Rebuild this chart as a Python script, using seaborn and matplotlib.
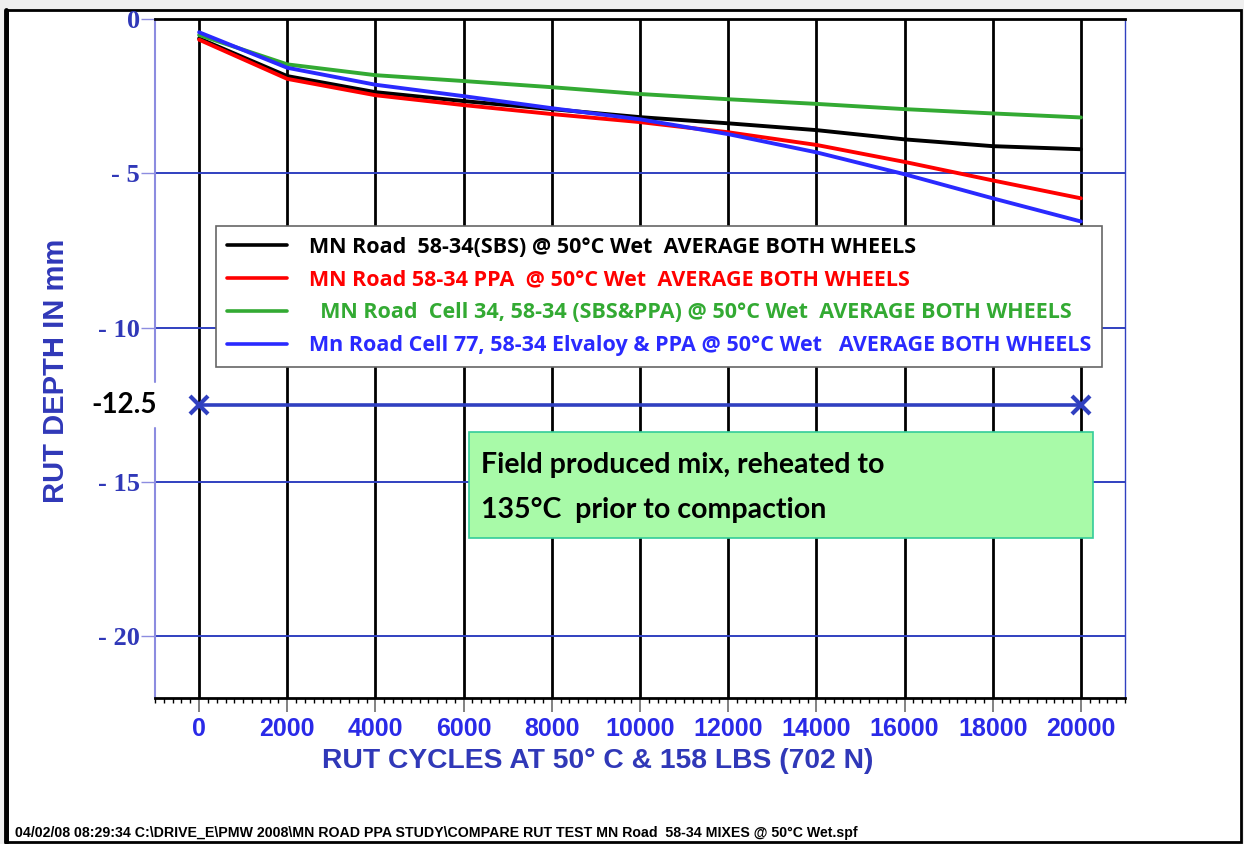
import matplotlib
matplotlib.use("Agg")
import matplotlib.pyplot as plt
import matplotlib.patches as mpatches
import matplotlib.transforms as mtransforms
from matplotlib.ticker import MultipleLocator
import numpy as np
import pandas as pd
import seaborn as sns

# ---------------- data ----------------
cycles = [0, 2000, 4000, 6000, 8000, 10000, 12000, 14000, 16000, 18000, 20000]
sbs = [-0.63, -1.85, -2.37, -2.66, -2.92, -3.18, -3.38, -3.60, -3.90, -4.12, -4.22]
ppa = [-0.67, -1.94, -2.47, -2.79, -3.08, -3.34, -3.67, -4.08, -4.63, -5.23, -5.81]
cell34 = [-0.52, -1.47, -1.82, -2.01, -2.21, -2.43, -2.60, -2.75, -2.92, -3.06, -3.19]
cell77 = [-0.43, -1.58, -2.13, -2.50, -2.89, -3.25, -3.73, -4.32, -5.03, -5.81, -6.56]

series_labels = [
    "MN Road  58-34(SBS) @ 50°C Wet  AVERAGE BOTH WHEELS",
    "MN Road 58-34 PPA  @ 50°C Wet  AVERAGE BOTH WHEELS",
    "  MN Road  Cell 34, 58-34 (SBS&PPA) @ 50°C Wet  AVERAGE BOTH WHEELS",
    "Mn Road Cell 77, 58-34 Elvaloy & PPA @ 50°C Wet   AVERAGE BOTH WHEELS",
]
series_colors = ["#000000", "#ff0000", "#33aa33", "#2a2aff"]
series_values = [sbs, ppa, cell34, cell77]

limit_x = [0, 20000]
limit_y = [-12.5, -12.5]

yticks = [0, -5, -10, -15, -20]
ytick_labels = ["0", "- 5", "- 10", "- 15", "- 20"]
xticks = [0, 2000, 4000, 6000, 8000, 10000, 12000, 14000, 16000, 18000, 20000]

df = pd.concat(
    [pd.DataFrame({"cycles": cycles, "rut": v, "series": lab})
     for v, lab in zip(series_values, series_labels)],
    ignore_index=True,
)

# ---------------- figure ----------------
sns.set_style("white")
W, H = 1244, 844
fig = plt.figure(figsize=(W / 100, H / 100), dpi=100)
fig.patch.set_facecolor("#efefef")

# white page with black frame
page = mpatches.Rectangle((7 / W, 2 / H), (1241 - 7) / W, (834 - 2) / H,
                          transform=fig.transFigure, facecolor="white",
                          edgecolor="black", linewidth=2, zorder=-10)
fig.add_artist(page)
fig.add_artist(plt.Line2D([6 / W, 6 / W], [2 / H, 834 / H], color="black",
                          lw=3.5, transform=fig.transFigure, zorder=-9))

ax = fig.add_axes([155 / W, 1 - 698 / H, (1125 - 155) / W, (698 - 19) / H])
ax.set_facecolor("white")

# grid
for xv in xticks:
    ax.axvline(xv, color="black", lw=2, zorder=1)
for yv in yticks[1:]:
    ax.axhline(yv, color="#3040c0", lw=1.4, zorder=1)

sns.lineplot(data=df, x="cycles", y="rut", hue="series",
             palette=dict(zip(series_labels, series_colors)),
             hue_order=series_labels, lw=2.8, ax=ax, legend=False, zorder=3)

ax.plot(limit_x, limit_y, color="#3040c0", lw=2.6, marker="x",
        markersize=13, mew=3, zorder=3)

ax.set_xlim(-1000, 21000)
ax.set_ylim(-22, 0)

# spines
for s in ["top", "bottom"]:
    ax.spines[s].set_color("black")
    ax.spines[s].set_linewidth(2)
ax.spines["right"].set_color("#3040c0")
ax.spines["right"].set_linewidth(1)
ax.spines["left"].set_visible(False)
# left spine with a gap around the -12.5 label
ax.axvline(-1000, ymin=0, ymax=1 - 13.25 / 22, color="#8c8ce0", lw=1.5,
           clip_on=False, zorder=2)
ax.axvline(-1000, ymin=1 - 11.75 / 22, ymax=1, color="#8c8ce0", lw=1.5,
           clip_on=False, zorder=2)

# ticks
ax.tick_params(axis="both", which="both", bottom=True, left=True,
               top=False, right=False)
ax.set_xticks(xticks)
ax.set_xticklabels([str(v) for v in xticks], fontsize=18, fontweight="bold",
                   color="#2a2ae8", family="Liberation Sans")
ax.xaxis.set_minor_locator(MultipleLocator(200))
ax.tick_params(axis="x", which="major", direction="out", length=10, width=1.3,
               color="#777777", pad=4)
ax.tick_params(axis="x", which="minor", direction="out", length=3.5, width=1,
               color="black")

ax.set_yticks(yticks)
ax.set_yticklabels(ytick_labels, fontsize=19, fontweight="bold",
                   color="#3038b8", family="Liberation Serif")
ax.tick_params(axis="y", which="major", direction="out", length=10, width=1,
               color="#8c8ce0", pad=1)
ax.tick_params(axis="y", which="minor", left=False)

ax.set_xlabel("RUT CYCLES AT 50° C & 158 LBS (702 N)", fontsize=20.3,
              fontweight="bold", color="#3038b8", family="Liberation Sans")
ax.xaxis.set_label_coords((598 - 155) / 970, -(748 - 698) / 679)
ax.set_ylabel("RUT DEPTH IN mm", fontsize=21, fontweight="bold",
              color="#3038b8", family="Liberation Sans")
ax.yaxis.set_label_coords((70 - 155) / 970, 1 - (371 - 19) / 679)

# -12.5 label
trans = mtransforms.blended_transform_factory(fig.transFigure, ax.transData)
ax.text(124 / W, -12.5, "-12.5", transform=trans, ha="center", va="center",
        fontsize=20, fontweight="bold", color="black", family="Lato")

# legend
handles = [plt.Line2D([], [], color=c, lw=2.6) for c in series_colors]
leg = ax.legend(handles, series_labels, loc="upper left",
                bbox_to_anchor=(216 / W, 1 - 226 / H),
                bbox_transform=fig.transFigure, frameon=True, fancybox=False,
                edgecolor="#666666", framealpha=1, borderaxespad=0,
                prop={"family": "Open Sans", "size": 15.5, "weight": "bold"},
                handlelength=2.8, labelspacing=0.55, borderpad=0.5,
                handletextpad=1.0)
leg.get_frame().set_linewidth(1.2)
leg.set_zorder(5)
for t, c in zip(leg.get_texts(), series_colors):
    t.set_color(c)

# annotation box
box = mpatches.Rectangle((469 / W, 1 - 538 / H), (1093 - 469) / W, (538 - 432) / H,
                         transform=fig.transFigure, facecolor="#a8faa8",
                         edgecolor="#33cc99", linewidth=1.2, zorder=6)
fig.add_artist(box)
fig.text(481 / W, 1 - 465 / H, "Field produced mix, reheated to",
         fontsize=20.5, family="Lato", fontweight="bold", color="black",
         va="center", ha="left", zorder=7)
fig.text(481 / W, 1 - 510 / H, "135°C  prior to compaction",
         fontsize=20.5, family="Lato", fontweight="bold", color="black",
         va="center", ha="left", zorder=7)

# footer
fig.text(15 / W, 1 - 833 / H,
         "04/02/08 08:29:34 C:\\DRIVE_E\\PMW 2008\\MN ROAD PPA STUDY\\COMPARE RUT TEST MN Road  58-34 MIXES @ 50°C Wet.spf",
         fontsize=10.2, fontweight="bold", family="Liberation Sans",
         color="black", va="center", ha="left")

fig.savefig("out.png", dpi=100, facecolor=fig.get_facecolor())
